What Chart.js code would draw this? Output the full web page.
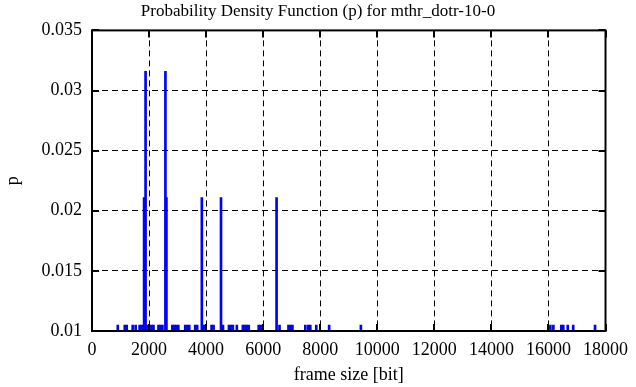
<!DOCTYPE html>
<html>
<head>
<meta charset="utf-8">
<script src="https://cdn.jsdelivr.net/npm/chart.js@4/dist/chart.umd.min.js"></script>
<style>
  html, body { margin: 0; padding: 0; background: #fff; }
  #wrap { width: 636px; height: 387px; }
</style>
</head>
<body>
<div id="wrap"><canvas id="pdfChart"></canvas></div>
<script>
// frame sizes (bit) and their probability
const frameSizes = [
  904, 1148, 1217, 1426, 1530, 1670, 1739, 1809, 1826, 1878,
  1948, 2017, 2087, 2156, 2330, 2400, 2469, 2574, 2609, 2817,
  2887, 2956, 3026, 3269, 3339, 3409, 3617, 3687, 3850, 3895,
  3965, 4191, 4261, 4522, 4591, 4800, 4869, 4939, 5078, 5287,
  5356, 5426, 5495, 5843, 5913, 6470, 6573, 6887, 6956, 7026,
  7478, 7582, 7652, 7861, 8313, 9426, 16068, 16173, 16451, 16520,
  16677, 16868, 17633
];
const probabilities = [
  0.0105, 0.0105, 0.0105, 0.0105, 0.0105, 0.0105, 0.0105, 0.0105, 0.0211, 0.0316,
  0.0105, 0.0105, 0.0105, 0.0105, 0.0105, 0.0105, 0.0105, 0.0316, 0.0211, 0.0105,
  0.0105, 0.0105, 0.0105, 0.0105, 0.0105, 0.0105, 0.0105, 0.0105, 0.0211, 0.0105,
  0.0105, 0.0105, 0.0105, 0.0211, 0.0105, 0.0105, 0.0105, 0.0105, 0.0105, 0.0105,
  0.0105, 0.0105, 0.0105, 0.0105, 0.0105, 0.0211, 0.0105, 0.0105, 0.0105, 0.0105,
  0.0105, 0.0105, 0.0105, 0.0105, 0.0105, 0.0105, 0.0105, 0.0105, 0.0105, 0.0105,
  0.0105, 0.0105, 0.0105
];

const xMin = 0, xMax = 18000, xStep = 2000;
const yMin = 0.01, yMax = 0.035, yStep = 0.005;

const serif = '"Liberation Serif", "DejaVu Serif", serif';

// gnuplot style box: full border and inward tick marks on all sides
const frameTicks = {
  id: 'frameTicks',
  afterDatasetsDraw(chart) {
    const { ctx, chartArea: a, scales } = chart;
    ctx.save();
    ctx.strokeStyle = '#000';
    ctx.lineWidth = 2;
    ctx.beginPath();
    scales.x.ticks.forEach(t => {
      const px = Math.round(scales.x.getPixelForValue(t.value));
      ctx.moveTo(px, a.bottom); ctx.lineTo(px, a.bottom - 7);
      ctx.moveTo(px, a.top); ctx.lineTo(px, a.top + 7);
    });
    scales.y.ticks.forEach(t => {
      const py = Math.round(scales.y.getPixelForValue(t.value));
      ctx.moveTo(a.left, py); ctx.lineTo(a.left + 7, py);
      ctx.moveTo(a.right, py); ctx.lineTo(a.right - 7, py);
    });
    ctx.stroke();
    ctx.strokeRect(a.left, a.top, a.right - a.left, a.bottom - a.top);
    ctx.restore();
  }
};

const ctx = document.getElementById('pdfChart').getContext('2d');
const chart = new Chart(ctx, {
  type: 'bar',
  data: {
    datasets: [{
      data: frameSizes.map((s, i) => ({ x: s, y: probabilities[i] })),
      backgroundColor: 'rgb(0, 0, 255)',
      borderWidth: 0,
      barThickness: 2
    }]
  },
  options: {
    responsive: true,
    maintainAspectRatio: false,
    animation: false,
    layout: { padding: 0 },
    plugins: {
      legend: { display: false },
      tooltip: { enabled: false },
      title: {
        display: true,
        text: 'Probability Density Function (p) for mthr_dotr-10-0',
        color: '#000',
        font: { family: serif, size: 17, weight: 'normal' },
        padding: { top: 1, bottom: 9 }
      }
    },
    scales: {
      x: {
        type: 'linear',
        min: xMin,
        max: xMax,
        offset: false,
        afterFit(scale) { scale.height = 56; },
        ticks: {
          stepSize: xStep,
          color: '#000',
          font: { family: serif, size: 18 },
          padding: 8,
          maxRotation: 0,
          callback: v => String(v)
        },
        grid: { color: '#000', lineWidth: 1, drawTicks: false, offset: false },
        border: { display: false, dash: [6, 4] },
        title: {
          display: true,
          text: 'frame size [bit]',
          color: '#000',
          font: { family: serif, size: 18 },
          padding: { top: 0, bottom: 1 }
        }
      },
      y: {
        min: yMin,
        max: yMax,
        afterFit(scale) { scale.width = 92; },
        ticks: {
          stepSize: yStep,
          color: '#000',
          font: { family: serif, size: 18 },
          padding: 10,
          callback: v => String(parseFloat(v.toFixed(3)))
        },
        grid: { color: '#000', lineWidth: 1, drawTicks: false },
        border: { display: false, dash: [6, 4] },
        title: {
          display: true,
          text: 'p',
          color: '#000',
          font: { family: serif, size: 18 },
          padding: { top: 2, bottom: 0 }
        }
      },
      // empty right margin so the title centres on the whole canvas
      yRight: {
        position: 'right',
        afterFit(scale) { scale.width = 26; },
        ticks: { display: false },
        grid: { display: false },
        border: { display: false }
      }
    }
  },
  plugins: [frameTicks]
});
</script>
</body>
</html>
